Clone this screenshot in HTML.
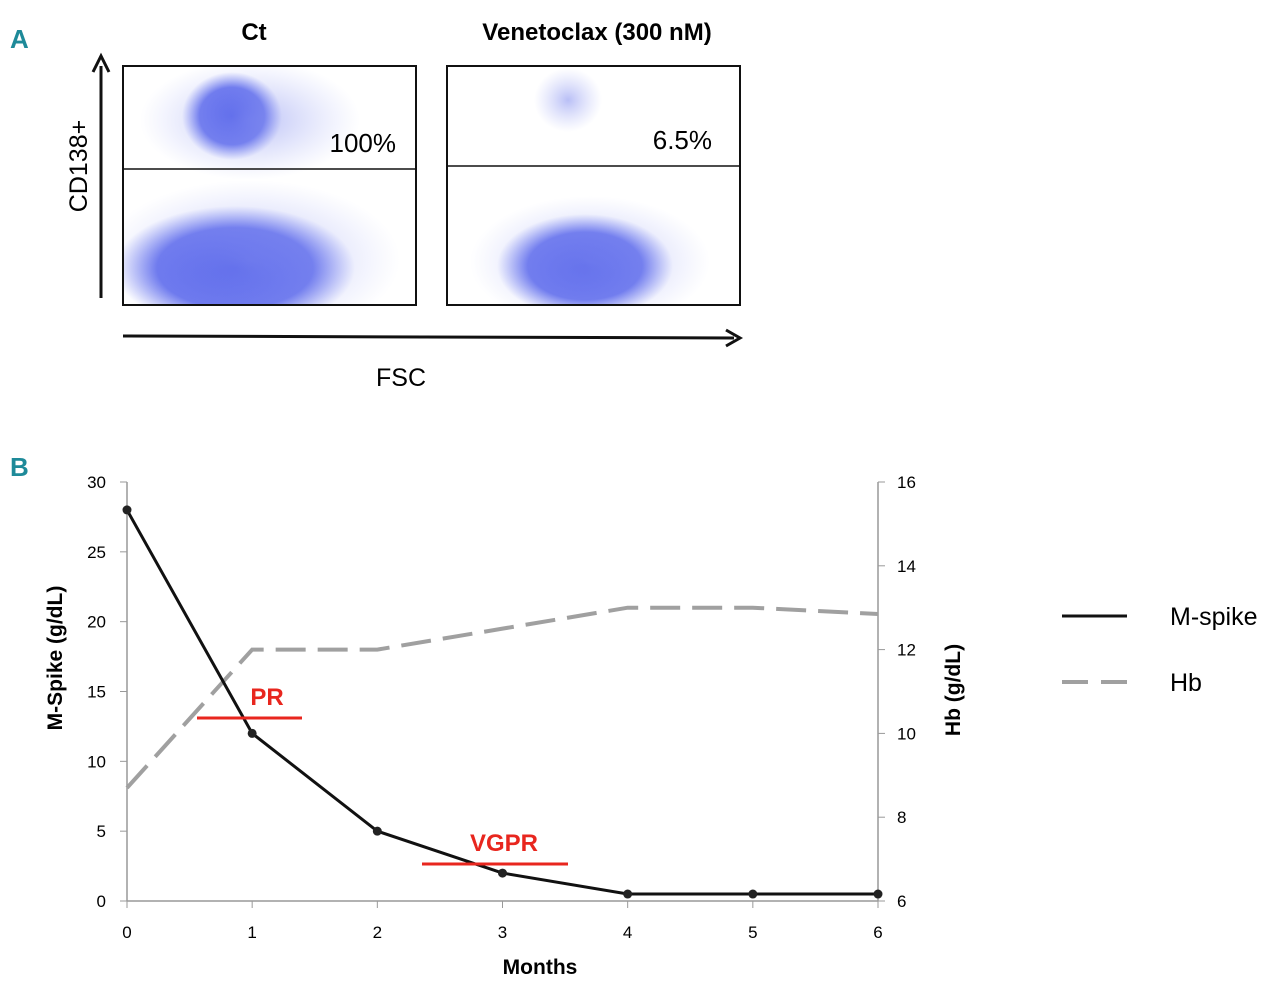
<!DOCTYPE html>
<html><head><meta charset="utf-8"><style>
body{margin:0;background:#fff;width:1280px;height:992px;overflow:hidden;font-family:"Liberation Sans",sans-serif}
svg{display:block}
</style></head><body>
<svg id="fig" width="1280" height="992" viewBox="0 0 1280 992">
<defs>
<radialGradient id="g1"><stop offset="0" stop-color="#2e3fe6" stop-opacity="0.95"/><stop offset="0.65" stop-color="#3a4ae8" stop-opacity="0.8"/><stop offset="1" stop-color="#6b78f0" stop-opacity="0"/></radialGradient>
<radialGradient id="g2"><stop offset="0" stop-color="#8a94f0" stop-opacity="0.6"/><stop offset="1" stop-color="#aab2f5" stop-opacity="0"/></radialGradient>
<clipPath id="cl"><rect x="123" y="66" width="293" height="239"/></clipPath>
<clipPath id="cr"><rect x="447" y="66" width="293" height="239"/></clipPath>
</defs>
<text x="10" y="48" font-size="26" font-weight="bold" fill="#1e8a99">A</text>
<text x="254" y="40" font-size="24" font-weight="bold" text-anchor="middle">Ct</text>
<text x="597" y="40" font-size="24" font-weight="bold" text-anchor="middle">Venetoclax (300 nM)</text>
<g clip-path="url(#cl)">
<ellipse cx="232" cy="116" rx="50" ry="44" fill="url(#g1)"/>
<ellipse cx="250" cy="120" rx="110" ry="60" fill="url(#g2)"/>
<ellipse cx="235" cy="268" rx="120" ry="62" fill="url(#g1)"/>
<ellipse cx="250" cy="260" rx="150" ry="80" fill="url(#g2)"/>
</g>
<g clip-path="url(#cr)">
<ellipse cx="568" cy="100" rx="34" ry="32" fill="url(#g2)"/>
<ellipse cx="585" cy="266" rx="88" ry="52" fill="url(#g1)"/>
<ellipse cx="590" cy="262" rx="120" ry="66" fill="url(#g2)"/>
</g>
<rect x="123" y="66" width="293" height="239" fill="none" stroke="#111" stroke-width="2"/>
<line x1="123" y1="169" x2="416" y2="169" stroke="#111" stroke-width="1.5"/>
<rect x="447" y="66" width="293" height="239" fill="none" stroke="#111" stroke-width="2"/>
<line x1="447" y1="166" x2="740" y2="166" stroke="#111" stroke-width="1.5"/>
<text x="396" y="152" font-size="26" text-anchor="end">100%</text>
<text x="712" y="149" font-size="26" text-anchor="end">6.5%</text>
<line x1="101" y1="298" x2="101" y2="66" stroke="#111" stroke-width="3"/>
<path d="M93,72 L101,56 L109,72" fill="none" stroke="#111" stroke-width="3"/>
<text transform="translate(87,166) rotate(-90)" font-size="25" text-anchor="middle">CD138+</text>
<line x1="123" y1="336" x2="734" y2="338" stroke="#111" stroke-width="3"/>
<path d="M726,330 L740,338 L726,346" fill="none" stroke="#111" stroke-width="3"/>
<text x="401" y="386" font-size="25" text-anchor="middle">FSC</text>
<text x="10" y="476" font-size="26" font-weight="bold" fill="#1e8a99">B</text>
<g id="chart"></g>
</svg>
<script>
const months=[0,1,2,3,4,5,6];
const mspike=[28,12,5,2,0.5,0.5,0.5];
const hb=[8.7,12,12,12.5,13,13,12.85];
const leftTicks=[0,5,10,15,20,25,30];
const rightTicks=[6,8,10,12,14,16];
const NS='http://www.w3.org/2000/svg';
const g=document.getElementById('chart');
const X=m=>127+m*(878-127)/6;
const YL=v=>901-v*(901-482)/30;
const YR=v=>901-(v-6)*(901-482)/10;
function mk(t,a,txt){const e=document.createElementNS(NS,t);for(const k in a)e.setAttribute(k,a[k]);if(txt!==undefined)e.textContent=txt;g.appendChild(e);return e;}
let e;
e=mk('line',{x1:127,y1:482,x2:127,y2:901,stroke:'#999','stroke-width':1.5});

e=mk('line',{x1:878,y1:482,x2:878,y2:901,stroke:'#999','stroke-width':1.5});

e=mk('line',{x1:127,y1:901,x2:878,y2:901,stroke:'#999','stroke-width':1.5});

leftTicks.forEach(v=>{
 e=mk('line',{x1:120,y1:YL(v),x2:127,y2:YL(v),stroke:'#999'});
 
 e=mk('text',{x:106,y:YL(v)+6,'font-size':17,'text-anchor':'end'},v);
 
});
rightTicks.forEach(v=>{
 e=mk('line',{x1:878,y1:YR(v),x2:885,y2:YR(v),stroke:'#999'});
 
 e=mk('text',{x:897,y:YR(v)+6,'font-size':17},v);
 
});
months.forEach(m=>{
 e=mk('line',{x1:X(m),y1:901,x2:X(m),y2:908,stroke:'#999'});
 
 e=mk('text',{x:X(m),y:938,'font-size':17,'text-anchor':'middle'},m);
 
});
e=mk('polyline',{points:months.map((m,i)=>X(m)+','+YR(hb[i])).join(' '),fill:'none',stroke:'#a0a0a0','stroke-width':4,'stroke-dasharray':'30 12'});

e=mk('polyline',{points:months.map((m,i)=>X(m)+','+YL(mspike[i])).join(' '),fill:'none',stroke:'#111','stroke-width':3});

months.forEach((m,i)=>{
 e=mk('circle',{cx:X(m),cy:YL(mspike[i]),r:4.5,fill:'#222'});
 
});
e=mk('line',{x1:197,y1:718,x2:302,y2:718,stroke:'#e8261e','stroke-width':3});

e=mk('text',{x:267,y:705,'font-size':24,'font-weight':'bold',fill:'#e8261e','text-anchor':'middle'},'PR');

e=mk('line',{x1:422,y1:864,x2:568,y2:864,stroke:'#e8261e','stroke-width':3});

e=mk('text',{x:504,y:851,'font-size':24,'font-weight':'bold',fill:'#e8261e','text-anchor':'middle'},'VGPR');

e=mk('text',{x:540,y:974,'font-size':21,'font-weight':'bold','text-anchor':'middle'},'Months');

e=mk('text',{transform:'translate(62,658) rotate(-90)','font-size':21,'font-weight':'bold','text-anchor':'middle'},'M-Spike (g/dL)');

e=mk('text',{transform:'translate(960,690) rotate(-90)','font-size':21,'font-weight':'bold','text-anchor':'middle'},'Hb (g/dL)');

e=mk('line',{x1:1062,y1:616,x2:1127,y2:616,stroke:'#111','stroke-width':3});

e=mk('text',{x:1170,y:625,'font-size':25},'M-spike');

e=mk('line',{x1:1062,y1:682,x2:1127,y2:682,stroke:'#a0a0a0','stroke-width':4,'stroke-dasharray':'26 13'});

e=mk('text',{x:1170,y:691,'font-size':25},'Hb');

</script>
</body></html>
